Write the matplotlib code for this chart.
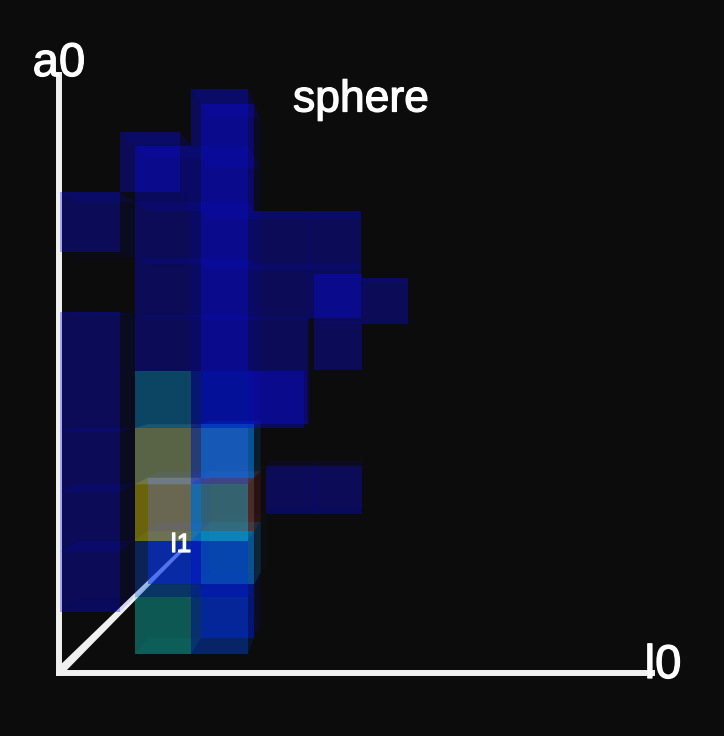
import matplotlib
matplotlib.use('Agg')
import matplotlib.pyplot as plt
import matplotlib.patheffects as pe
from matplotlib.colors import to_rgba
from matplotlib.patches import Polygon

# voxels: column on l0, row on a0, layer on l1, colour with density as alpha
NAVY = '#0A0AFF50'
l0_bins = [0, 0, 0, 0, 0, 0, 1,
           1, 1, 1, 1, 1, 1, 1, 1, 1,
           1, 1,
           2, 2, 2, 2, 2, 2, 2, 2, 2, 2,
           2, 2, 2, 2, 2, 2, 2, 2, 2, 2,
           2, 2,
           3, 3, 3, 3, 3, 4, 4,
           3, 4, 4, 4, 5]
a0_bins = [1, 2, 3, 4, 5, 7, 8,
           0, 1, 2, 3, 4, 5, 6, 7, 8,
           1, 2,
           0, 1, 2, 3, 4, 5, 6, 7, 8, 9,
           0, 1, 2, 3, 4, 5, 6, 7, 8, 9,
           1, 2,
           4, 4, 5, 6, 7, 6, 7,
           2, 2, 5, 6, 6]
l1_bins = [0, 0, 0, 0, 0, 0, 0,
           1, 1, 1, 1, 1, 1, 1, 1, 1,
           2, 2,
           1, 1, 1, 1, 1, 1, 1, 1, 1, 1,
           2, 2, 2, 2, 2, 2, 2, 2, 2, 2,
           3, 3,
           1, 2, 2, 2, 2, 2, 2,
           4, 4, 4, 4, 5]
voxel_colors = [NAVY, NAVY, NAVY, NAVY, NAVY, NAVY, NAVY,
                '#0FE6D85A', '#0752DC5A', '#F5E80766', '#CFE89D66', '#0C9DE866', NAVY, NAVY, NAVY, NAVY,
                '#0A1EFF80', '#0C14FF80',
                '#0050FF5A', '#0026FF5A', '#0CBEE673', '#3264FF66', '#0014FF5A', NAVY, NAVY, NAVY, NAVY, NAVY,
                '#001AFF5A', '#0AA0F078', '#C8280A5A', '#0096FF80', '#0014FF5A', NAVY, NAVY, NAVY, NAVY, NAVY,
                '#103C8030', '#50203030',
                NAVY, NAVY, NAVY, NAVY, NAVY, NAVY, NAVY,
                NAVY, NAVY, NAVY, NAVY, NAVY]

axis_len = 10
axis_len_l1 = 10.5
axis_labels = ['l0', 'a0', 'l1']
title = 'sphere'

# screen position of the origin and vanishing point
ox, oy = 60, 672
vx, vy = 370, 362
cell = 60
bg = '#0c0c0c'


def project(l0, a0, l1):
    s = 1 / (1 + l1 / 16)
    return vx + (ox + cell * l0 - vx) * s, vy + (oy - cell * a0 - vy) * s


def face(ax, corners, color, alpha, zorder=2):
    pts = [project(*c) for c in corners]
    r, g, b, _ = to_rgba(color)
    ax.add_patch(Polygon(pts, closed=True, facecolor=(r, g, b, alpha), edgecolor='none',
                         linewidth=0, zorder=zorder))


fig = plt.figure(figsize=(7.24, 7.36), dpi=100, facecolor=bg)
ax = fig.add_axes([0, 0, 1, 1])
ax.set_xlim(0, 724)
ax.set_ylim(736, 0)
ax.axis('off')

# axes go under the voxels so the boxes tint them
ax.plot([ox - 1, ox - 1], [oy + 4, oy - cell * axis_len], color='#f0f0f0', lw=4.3, solid_capstyle='butt', zorder=1)
ax.plot([ox - 4, ox + cell * axis_len - 5], [oy + 1, oy + 1], color='#f0f0f0', lw=4.3, solid_capstyle='butt', zorder=1)
x1, y1 = project(0, 0, axis_len_l1)
ax.add_patch(Polygon([(ox - 4, oy - 3), (ox + 2, oy + 3), (x1 + 1.2, y1 + 1.2), (x1 - 1.2, y1 - 1.2)],
                     closed=True, facecolor='#f0f0f0', edgecolor='none', zorder=1))

# back to front, alpha blending depends on the order
order = sorted(range(len(l0_bins)), key=lambda i: -l1_bins[i])
for i in order:
    c, r, d = l0_bins[i], a0_bins[i], l1_bins[i]
    color = voxel_colors[i]
    a = to_rgba(color)[3]
    # right side
    face(ax, [(c + 1, r, d), (c + 1, r + 1, d), (c + 1, r + 1, d + 1), (c + 1, r, d + 1)], color, a * 0.25)
    # top and bottom
    face(ax, [(c, r + 1, d), (c + 1, r + 1, d), (c + 1, r + 1, d + 1), (c, r + 1, d + 1)], color, a * 0.3)
    face(ax, [(c, r, d), (c + 1, r, d), (c + 1, r, d + 1), (c, r, d + 1)], color, a * 0.1)
    # front
    face(ax, [(c, r, d), (c + 1, r, d), (c + 1, r + 1, d), (c, r + 1, d)], color, a)

font = 'Liberation Sans'
halo = [pe.withStroke(linewidth=0.9, foreground='white')]
ax.text(59, 64, axis_labels[1], color='white', fontsize=34, family=font, ha='center', va='center', zorder=5, path_effects=halo)
ax.text(663, 666, axis_labels[0], color='white', fontsize=34, family=font, ha='center', va='center', zorder=5, path_effects=halo)
ax.text(181, 545, axis_labels[2], color='white', fontsize=19, family=font, ha='center', va='center', zorder=5, path_effects=halo)
ax.text(361, 100, title, color='white', fontsize=32, family=font, ha='center', va='center', zorder=5, path_effects=halo)

fig.savefig('out.png', dpi=100, facecolor=bg)
